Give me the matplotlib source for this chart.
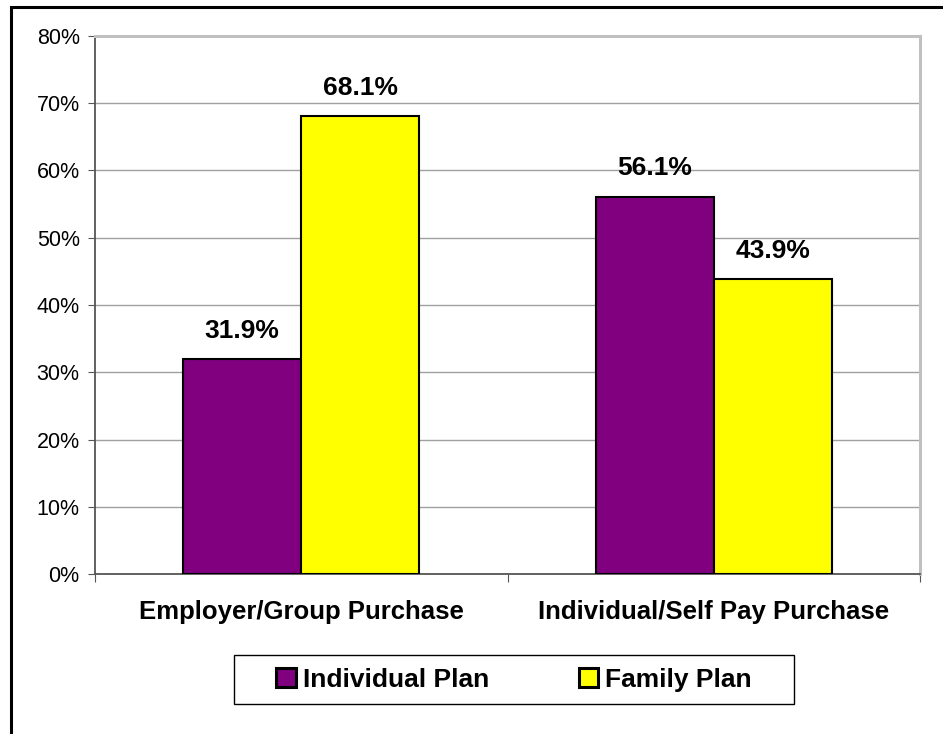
import matplotlib
matplotlib.use("Agg")
import matplotlib.pyplot as plt
from matplotlib.patches import Rectangle
import numpy as np

plt.rcParams['font.family'] = ['Liberation Sans', 'DejaVu Sans']

categories = ["Employer/Group Purchase", "Individual/Self Pay Purchase"]
series_names = ["Individual Plan", "Family Plan"]
individual_plan = [31.9, 56.1]
family_plan = [68.1, 43.9]
series_colors = ["#800080", "#FFFF00"]
ytick_values = [0, 10, 20, 30, 40, 50, 60, 70, 80]
ytick_labels = [f"{v}%" for v in ytick_values]

W, H = 943, 734
fig = plt.figure(figsize=(W / 100, H / 100), dpi=100)
fig.patch.set_facecolor("white")

# outer frame of the chart area (clipped on the right and bottom)
fig.add_artist(Rectangle((11 / W, -0.05), 1.2, 1 - 7 / H + 0.05,
                         transform=fig.transFigure, fill=False,
                         edgecolor="black", linewidth=2.2))

ax = fig.add_axes([95 / W, 1 - 574 / H, (920 - 95) / W, (574 - 36) / H])

x = np.arange(len(categories))
bw = 0.286
series = [individual_plan, family_plan]
offsets = [-bw / 2, bw / 2]
for vals, off, col, name in zip(series, offsets, series_colors, series_names):
    bars = ax.bar(x + off, vals, width=bw, color=col, edgecolor="black",
                  linewidth=1.5, label=name, zorder=3)
    for b, v in zip(bars, vals):
        ax.text(b.get_x() + b.get_width() / 2, v + 4.2, f"{v:.1f}%",
                ha="center", va="center", fontsize=19, fontweight="bold",
                zorder=4)

ax.set_xlim(-0.5, 1.5)
ax.set_ylim(0, 80)
ax.set_yticks(ytick_values)
ax.set_yticklabels(ytick_labels, fontsize=15.5)
ax.yaxis.grid(True, color="#a0a0a0", linewidth=1, zorder=0)
ax.set_axisbelow(True)

# category labels between boundary ticks
ax.set_xticks([-0.5, 0.5, 1.5])
ax.set_xticklabels([])
ax.set_xticks(x, minor=True)
ax.set_xticklabels(categories, minor=True, fontsize=18.5, fontweight="bold")
ax.tick_params(axis="x", which="minor", length=0, pad=19)
ax.tick_params(axis="x", which="major", length=6, color="#555555")
ax.tick_params(axis="y", length=5, color="#555555", pad=6)

for side in ("left", "bottom"):
    ax.spines[side].set_color("#555555")
    ax.spines[side].set_linewidth(1.3)
for side in ("top", "right"):
    ax.spines[side].set_color("#c0c0c0")
    ax.spines[side].set_linewidth(2.2)

leg = fig.legend(loc="center", bbox_to_anchor=(514 / W, 1 - 680 / H),
                 ncol=2, frameon=False,
                 prop={"size": 19, "weight": "bold"}, handlelength=0.75,
                 handleheight=0.75, handletextpad=0.25, columnspacing=3.4,
                 borderpad=0.45, borderaxespad=0)
for h in leg.legend_handles:
    h.set_linewidth(2.2)

# legend box
fig.add_artist(Rectangle((234 / W, 1 - 704 / H), (794 - 234) / W, 49 / H,
                         transform=fig.transFigure, fill=False,
                         edgecolor="black", linewidth=1.0))

fig.savefig("out.png", dpi=100, facecolor="white")
